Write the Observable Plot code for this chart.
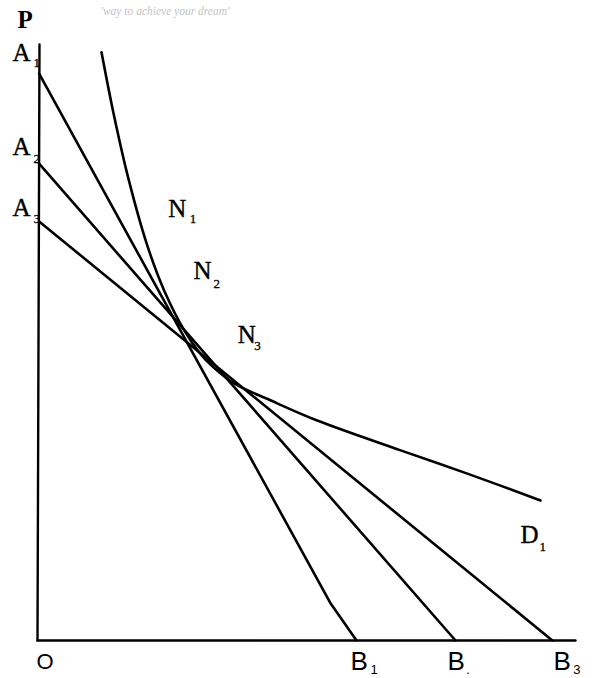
<!DOCTYPE html>
<html>
<head>
<meta charset="utf-8">
<script src="https://cdn.jsdelivr.net/npm/d3@7"></script>
<script src="https://cdn.jsdelivr.net/npm/@observablehq/plot@0.6"></script>
<style>
  html, body { margin: 0; padding: 0; background: #fff; }
  #chart svg { display: block; }
</style>
</head>
<body>
<div id="chart"></div>
<script>
// Demand curve D1 (quantity Q, price P), arbitrary units 0-100
const curveQ = [11.9, 14.1, 16.9, 20.4, 23.6, 27.3, 30.1, 32.5, 36.8, 43.3, 52.0, 67.5, 79.9, 93.5];
const curveP = [98.7, 88.6, 77.5, 66.3, 58.6, 52.0, 48.3, 46.0, 43.0, 40.3, 36.9, 31.9, 28.0, 23.5];

// Straight lines A_i -> B_i (A on price axis, B on quantity axis)
const lineNames = ["A1B1", "A2B2", "A3B3"];
const lineA = [95.1, 80.0, 70.3];        // price intercepts
const lineB = [59.3, 77.7, 95.7];        // quantity intercepts
// A1B1 has a slight bend close to B1
const bendQ = 54.5, bendP = 6.2;

// Axes extents
const axisTopP = 100, axisRightQ = 100;

// Labels: main letter, subscript, and their anchor positions
const labelMain = ["A", "A", "A", "N", "N", "N", "D", "B", "B", "B", "O"];
const labelSub  = ["1", "2", "3", "1", "2", "3", "1", "1", ".", "3", ""];
const labelQ    = [-4.65, -4.65, -4.65, 24.3, 29.0, 37.2, 89.8, 58.2, 76.2, 95.9, -0.2];
const labelP    = [97.3, 81.4, 71.3, 71.0, 60.7, 50.0, 16.4, -5.0, -5.0, -5.0, -4.7];
const subQ      = [-0.74, -0.74, -0.74, 28.3, 32.7, 40.3, 93.3, 61.9, 79.7, 99.6, 0];
const subP      = [96.3, 80.2, 70.1, 70.0, 59.2, 48.7, 15.1, -5.6, -5.6, -5.6, 0];

const curveData = curveQ.map((q, i) => ({q, p: curveP[i]}));
const lineData = [];
lineNames.forEach((name, i) => {
  lineData.push({name, q: 0.3, p: lineA[i]});
  if (i === 0) lineData.push({name, q: bendQ, p: bendP});
  lineData.push({name, q: lineB[i], p: 0});
});
const axisData = [
  {name: "v", q: 0.37, p: axisTopP}, {name: "v", q: 0, p: 0},
  {name: "h", q: 0, p: 0}, {name: "h", q: axisRightQ, p: 0}
];
const labels = labelMain.map((m, i) => ({
  m, s: labelSub[i], q: labelQ[i], p: labelP[i], sq: subQ[i], sp: subP[i],
  sans: i >= 7
}));
const serifLabels = labels.filter(d => !d.sans);
const sansLabels = labels.filter(d => d.sans);

const chart = Plot.plot({
  width: 599,
  height: 678,
  marginLeft: 37,
  marginRight: 24,
  marginTop: 44,
  marginBottom: 38,
  x: {domain: [0, 100], axis: null},
  y: {domain: [0, 100], axis: null},
  style: {background: "#fff"},
  marks: [
    Plot.line(axisData, {x: "q", y: "p", z: "name", stroke: "#000", strokeWidth: 2.4}),
    Plot.line(lineData, {x: "q", y: "p", z: "name", stroke: "#000", strokeWidth: 2.6, strokeLinejoin: "round"}),
    Plot.line(curveData, {x: "q", y: "p", curve: "catmull-rom", stroke: "#000", strokeWidth: 2.6}),
    // P axis label
    Plot.text(["P"], {x: -3.72, y: 102.85, text: d => d, textAnchor: "start", lineAnchor: "bottom",
      fontFamily: "Liberation Serif", fontWeight: "bold", fontSize: 25, fill: "#000"}),
    // serif labels
    Plot.text(serifLabels, {x: "q", y: "p", text: "m", textAnchor: "start", lineAnchor: "bottom",
      fontFamily: "Liberation Serif", fontSize: 25, fill: "#000", stroke: "#000", strokeWidth: 0.4}),
    Plot.text(serifLabels, {x: "sq", y: "sp", text: "s", textAnchor: "start", lineAnchor: "bottom",
      fontFamily: "Liberation Serif", fontSize: 13, fill: "#000", stroke: "#000", strokeWidth: 0.3}),
    // sans labels
    Plot.text(sansLabels, {x: "q", y: "p", text: "m", textAnchor: "start", lineAnchor: "bottom",
      fontFamily: "Liberation Sans", fontSize: d => d.m === "O" ? 22 : 26, fill: "#000"}),
    Plot.text(sansLabels.filter(d => d.s), {x: "sq", y: "sp", text: "s", textAnchor: "start", lineAnchor: "bottom",
      fontFamily: "Liberation Sans", fontSize: 13, fill: "#000"}),
    // watermark
    Plot.text(["'way to achieve your dream'"], {x: 11.7, y: 105, text: d => d, textAnchor: "start", lineAnchor: "bottom",
      fontFamily: "Liberation Serif", fontStyle: "italic", fontSize: 11.5, fill: "#c4c4c4"})
  ]
});
document.getElementById("chart").appendChild(chart);
</script>
</body>
</html>
